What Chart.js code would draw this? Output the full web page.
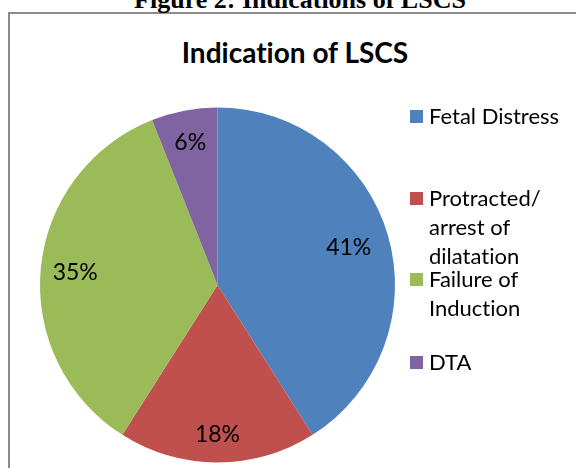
<!DOCTYPE html>
<html>
<head>
<meta charset="utf-8">
<script src="https://cdn.jsdelivr.net/npm/chart.js@4.4.1/dist/chart.umd.min.js"></script>
<style>
  html, body { margin: 0; padding: 0; background: #fff; }
  #wrap { position: relative; width: 576px; height: 468px; overflow: hidden; background: #fff;
          font-variant-ligatures: none; font-feature-settings: "liga" 0, "clig" 0; }
  #frame { position: absolute; left: 8px; top: 12px; width: 640px; height: 520px;
           border-left: 2px solid #8c8c8c; border-top: 2px solid #8c8c8c; }
  #caption { position: absolute; left: 0; width: 600px; top: -15px; text-align: center;
             font-family: "Liberation Serif", "Times New Roman", serif; font-weight: bold;
             font-size: 26px; line-height: 30px; white-space: nowrap; color: #000; }
  #title { position: absolute; left: 0; width: 590px; top: 36px; text-align: center;
           font-family: Lato, "Open Sans", sans-serif; font-weight: bold;
           font-size: 28px; line-height: 32px; white-space: nowrap; color: #000; }
  canvas { position: absolute; left: 0; top: 0; }
  .lg { position: absolute; left: 410px; width: 160px; font-family: Lato, "Open Sans", sans-serif;
        font-size: 22px; line-height: 29px; color: #000; }
  .lg .sw { position: absolute; left: 0; top: 9px; width: 13px; height: 13px; }
  .lg .tx { position: absolute; left: 19px; top: 0; width: 145px; }
</style>
</head>
<body>
<div id="wrap">
  <div id="frame"></div>
  <div id="caption">Figure 2: Indications of LSCS</div>
  <div id="title">Indication of LSCS</div>
  <canvas id="c" width="576" height="468"></canvas>
</div>
<script>
// ---- data ----
const categories = ["Fetal Distress", "Protracted/ arrest of dilatation", "Failure of Induction", "DTA"];
const values = [41, 18, 35, 6];
const valueLabels = ["41%", "18%", "35%", "6%"];
// ---- styles ----
const sliceColors = ["#4F81BD", "#C0504D", "#9BBB59", "#8064A2"];
const labelRadiusFraction = [0.77, 0.84, 0.805, 0.82];
const legendTops = [101, 183, 264, 347];

const pctLabels = {
  id: 'pctLabels',
  afterDatasetsDraw(chart) {
    const ctx = chart.ctx;
    const meta = chart.getDatasetMeta(0);
    const size = 23;
    ctx.save();
    ctx.font = size + 'px Lato, "Open Sans", sans-serif';
    ctx.fillStyle = '#000';
    ctx.textAlign = 'center';
    ctx.textBaseline = 'alphabetic';
    meta.data.forEach((arc, i) => {
      const p = arc.getProps(['x', 'y', 'startAngle', 'endAngle', 'outerRadius'], true);
      const mid = (p.startAngle + p.endAngle) / 2;
      const r = p.outerRadius * labelRadiusFraction[i];
      const x = p.x + Math.cos(mid) * r;
      const y = p.y + Math.sin(mid) * r;
      ctx.fillText(valueLabels[i], x, y + size * 0.716 / 2);
    });
    ctx.restore();
  }
};

const chart = new Chart(document.getElementById('c'), {
  type: 'pie',
  data: {
    labels: categories,
    datasets: [{
      data: values,
      backgroundColor: sliceColors,
      borderWidth: 0
    }]
  },
  options: {
    responsive: false,
    animation: false,
    layout: { padding: { left: 40, right: 181, top: 107, bottom: 5 } },
    plugins: {
      legend: { display: false },
      tooltip: { enabled: false },
      title: { display: false }
    }
  },
  plugins: [pctLabels]
});

// HTML legend built from the chart's own labels
const wrap = document.getElementById('wrap');
chart.data.labels.forEach((lab, i) => {
  const item = document.createElement('div');
  item.className = 'lg';
  item.style.top = legendTops[i] + 'px';
  const sw = document.createElement('div');
  sw.className = 'sw';
  sw.style.background = chart.data.datasets[0].backgroundColor[i];
  const tx = document.createElement('div');
  tx.className = 'tx';
  tx.textContent = lab;
  item.appendChild(sw);
  item.appendChild(tx);
  wrap.appendChild(item);
});
</script>
</body>
</html>
